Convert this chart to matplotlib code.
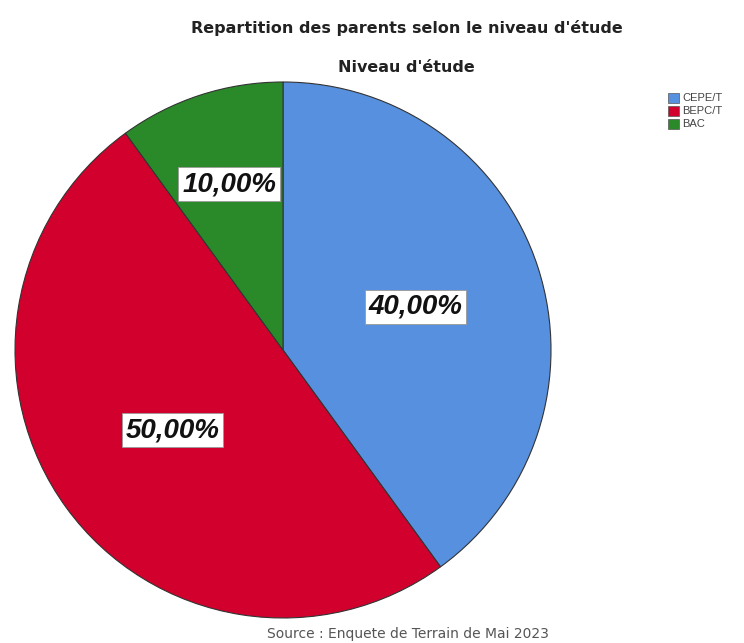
import numpy as np
import matplotlib.pyplot as plt
from matplotlib.patches import Patch

categories = ['CEPE/T', 'BEPC/T', 'BAC']
values = [40.0, 50.0, 10.0]
colors = ['#5690DE', '#D2002C', '#2A8A2A']
label_dist = [0.52, 0.51, 0.65]

fig = plt.figure(figsize=(7.44, 6.43), dpi=100)
plt.rcParams['font.family'] = ['Liberation Sans', 'DejaVu Sans']

W, H = 744, 643
cx, cy, r = 283, 350, 268
ax = fig.add_axes([(cx - r) / W, (H - cy - r) / H, 2 * r / W, 2 * r / H])

wedges, _ = ax.pie(values, colors=colors, startangle=90, counterclock=False,
                   wedgeprops=dict(edgecolor='#333333', linewidth=0.8))
for w in wedges:
    w.set_clip_on(False)
ax.set_xlim(-1, 1)
ax.set_ylim(-1, 1)
ax.set_aspect('equal')
ax.axis('off')

for w, v, d in zip(wedges, values, label_dist):
    mid = np.deg2rad((w.theta1 + w.theta2) / 2)
    ax.text(d * np.cos(mid), d * np.sin(mid), f'{v:.2f}%'.replace('.', ','),
            ha='center', va='center', fontsize=20, fontweight='bold', style='italic',
            color='#111111',
            bbox=dict(boxstyle='square,pad=0.14', facecolor='white', edgecolor='#999999', linewidth=0.6))

fig.text(407 / W, 1 - 28 / H, "Repartition des parents selon le niveau d'étude",
         ha='center', va='center', fontsize=11.5, fontweight='bold', color='#222222',
         family='DejaVu Sans')
fig.text(406 / W, 1 - 67 / H, "Niveau d'étude",
         ha='center', va='center', fontsize=11.5, fontweight='bold', color='#222222',
         family='DejaVu Sans')
fig.text(408 / W, 1 - 634 / H, 'Source : Enquete de Terrain de Mai 2023',
         ha='center', va='center', fontsize=10, color='#555555', family='DejaVu Sans')

handles = [Patch(facecolor=c, edgecolor='#555555', linewidth=0.5) for c in colors]
fig.legend(handles, categories, loc='upper left', bbox_to_anchor=(662 / W, 1 - 87 / H),
           frameon=False, fontsize=8, handlelength=1.0, handleheight=1.0,
           handletextpad=0.3, labelspacing=0.2, borderpad=0.0, labelcolor='#444444')

fig.savefig('out.png', dpi=100)
